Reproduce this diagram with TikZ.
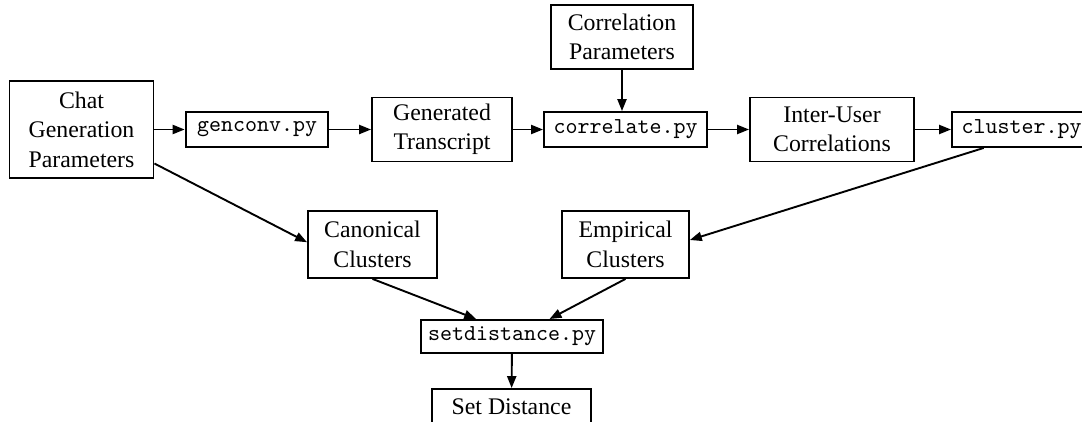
\documentclass[tikz,border=0pt]{standalone}
\usepackage{fontspec}
\setmainfont{Liberation Serif}
\usetikzlibrary{arrows.meta}

\begin{document}
\begin{tikzpicture}[
        x=0.42pt, y=-0.42pt,
        every node/.style={draw, rectangle, line width=0.8pt, inner sep=0pt, align=center,
          font=\fontsize{10}{12.4}\selectfont},
        prog/.style={font=\ttfamily\fontsize{9.6}{11}\selectfont, minimum height=14.7pt},
        >={Triangle[length=5pt, width=3.8pt]},
        line width=0.8pt
      ]
        \useasboundingbox (0,0) rectangle (1082,421);

        % Top row: the generation and correlation chain
        \node[minimum width=60.5pt, minimum height=40.7pt] (Chat) at (81.5,129.5) {Chat\\Generation\\Parameters};
        \node[prog, minimum width=60pt] (Genconv) at (257,129.5) {genconv.py};
        \node[minimum width=58.8pt, minimum height=26.9pt] (Transcript) at (442,129.5) {Generated\\Transcript};
        \node[minimum width=59.6pt, minimum height=26.9pt] (CorrParams) at (622,37) {Correlation\\Parameters};
        \node[prog, minimum width=68.5pt] (Correlate) at (625.5,129.5) {correlate.py};
        \node[minimum width=68.9pt, minimum height=26.9pt] (Correlations) at (832,129.5) {Inter-User\\Correlations};
        \node[prog, minimum width=58.4pt] (Cluster) at (1021.5,129.5) {cluster.py};

        % Middle row: the two sets of clusters
        \node[minimum width=54.2pt, minimum height=28.1pt] (Canonical) at (372.5,244.5) {Canonical\\Clusters};
        \node[minimum width=53.3pt, minimum height=28.1pt] (Empirical) at (625.5,244.5) {Empirical\\Clusters};

        % Bottom: the comparison
        \node[prog, minimum width=76.4pt, minimum height=13.9pt] (SetDist) at (512,336.5) {setdistance.py};
        \node[minimum width=66.8pt, minimum height=14.7pt] (Distance) at (511.5,406.5) {Set Distance};

        \draw[->] (Chat) -- (Genconv);
        \draw[->] (Genconv) -- (Transcript);
        \draw[->] (Transcript) -- (Correlate);
        \draw[->] (CorrParams.south) -- (CorrParams.south |- Correlate.north);
        \draw[->] (Correlate) -- (Correlations);
        \draw[->] (Correlations) -- (Cluster);

        \draw[->] (Chat.-25) -- (Canonical.178);
        \draw[->] (Cluster.206) -- (Empirical.4);

        \draw[->] (Canonical.south) -- (SetDist.154);
        \draw[->] (Empirical.south) -- (SetDist.25);
        \draw[->] (SetDist) -- (Distance);
      \end{tikzpicture}
\end{document}
